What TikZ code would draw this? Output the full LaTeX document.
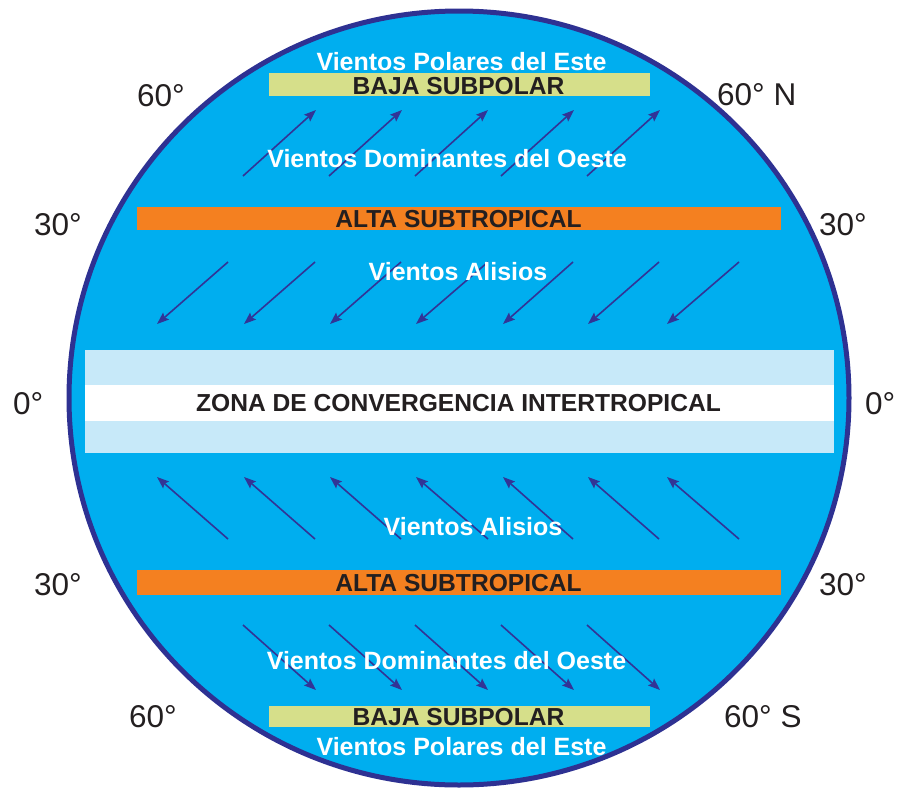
\documentclass[tikz,border=0pt]{standalone}
\usepackage{fontspec}
\setmainfont{Liberation Sans}
\usetikzlibrary{arrows.meta,shapes.geometric}
\definecolor{globe}{RGB}{0,174,239}
\definecolor{rim}{RGB}{46,49,146}
\definecolor{windc}{RGB}{50,52,150}
\definecolor{orangeb}{RGB}{244,128,32}
\definecolor{oliveb}{RGB}{214,223,138}
\definecolor{itczl}{RGB}{199,233,249}
\definecolor{labelc}{RGB}{35,31,32}
\begin{document}
\begin{tikzpicture}[x=1pt,y=-1pt,
  windtext/.style={white,font=\bfseries\fontsize{25}{27}\selectfont,inner sep=0,anchor=base},
  bandtext/.style={labelc,font=\bfseries\fontsize{24.6}{26}\selectfont,inner sep=0,anchor=base},
  deg/.style={labelc,font=\fontsize{31.5}{33}\selectfont,inner sep=0,anchor=base west},
  bandbox/.style={inner sep=0,outer sep=0,draw=none},
  windarrow/.style={windc,line width=1.6pt,-{Stealth[length=12pt,width=9pt,inset=2pt]}},
]
\useasboundingbox (0,0) rectangle (900,790);
\fill[white] (0,0) rectangle (900,790);
% globe
\node[draw=rim,fill=globe,line width=5pt,ellipse,minimum width=780pt,minimum height=774pt,inner sep=0] (globe) at (459,398) {};
% bands
\node[bandbox,fill=oliveb,minimum width=381pt,minimum height=23pt] (bsN) at (459.5,84.5) {};
\node[bandbox,fill=orangeb,minimum width=644pt,minimum height=23pt] (asN) at (459,218.5) {};
\node[bandbox,fill=itczl,minimum width=749pt,minimum height=103pt] (itczo) at (459.5,401.5) {};
\node[bandbox,fill=white,minimum width=749pt,minimum height=36pt] (itczi) at (459.5,403) {};
\node[bandbox,fill=orangeb,minimum width=644pt,minimum height=25pt] (asS) at (459,582.5) {};
\node[bandbox,fill=oliveb,minimum width=381pt,minimum height=21pt] (bsS) at (459.5,716.5) {};
% band texts
\node[bandtext] (tbsN) at (458.5,94.5) {BAJA SUBPOLAR};
\node[bandtext] (tasN) at (458.5,227) {ALTA SUBTROPICAL};
\node[bandtext] (titcz) at (458.5,411) {ZONA DE CONVERGENCIA INTERTROPICAL};
\node[bandtext] (tasS) at (458.5,591) {ALTA SUBTROPICAL};
\node[bandtext] (tbsS) at (458.5,725.5) {BAJA SUBPOLAR};
% arrows north westerlies (NE)
\foreach \i/\x in {1/243,2/329,3/415,4/501,5/587}{
  \coordinate (wNt\i) at (\x,176);
  \coordinate (wNh\i) at (\x+73,110);
  \draw[windarrow] (wNt\i) -- (wNh\i);
}
% arrows south westerlies (SE)
\foreach \i/\x in {1/243,2/329,3/415,4/501,5/587}{
  \coordinate (wSt\i) at (\x,625);
  \coordinate (wSh\i) at (\x+73,690);
  \draw[windarrow] (wSt\i) -- (wSh\i);
}
% trade winds north (SW)
\foreach \i/\x/\y in {1/228/157,2/315/244,3/401/330,4/488/416,5/573/503,6/659/588,7/739/667}{
  \coordinate (aNt\i) at (\x,262);
  \coordinate (aNh\i) at (\y,324);
  \draw[windarrow] (aNt\i) -- (aNh\i);
}
% trade winds south (NW)
\foreach \i/\x/\y in {1/228/157,2/315/244,3/401/330,4/488/416,5/573/503,6/659/588,7/739/667}{
  \coordinate (aSt\i) at (\x,539);
  \coordinate (aSh\i) at (\y,477);
  \draw[windarrow] (aSt\i) -- (aSh\i);
}
% wind texts
\node[windtext] (pN) at (461.5,70) {Vientos Polares del Este};
\node[windtext] (dN) at (447,167) {Vientos Dominantes del Oeste};
\node[windtext] (aliN) at (458,280) {Vientos Alisios};
\node[windtext] (aliS) at (473,535) {Vientos Alisios};
\node[windtext] (dS) at (446.5,669) {Vientos Dominantes del Oeste};
\node[windtext] (pS) at (461.5,755) {Vientos Polares del Este};
% degree labels
\node[deg] (l60N) at (137,106) {60°};
\node[deg] (r60N) at (717,105) {60° N};
\node[deg] (l30N) at (34,235) {30°};
\node[deg] (r30N) at (819,235) {30°};
\node[deg] (l0) at (13,414) {0°};
\node[deg] (r0) at (865,414) {0°};
\node[deg] (l30S) at (34,595) {30°};
\node[deg] (r30S) at (819,595) {30°};
\node[deg] (l60S) at (129,727) {60°};
\node[deg] (r60S) at (724,727) {60° S};
\end{tikzpicture}
\end{document}
